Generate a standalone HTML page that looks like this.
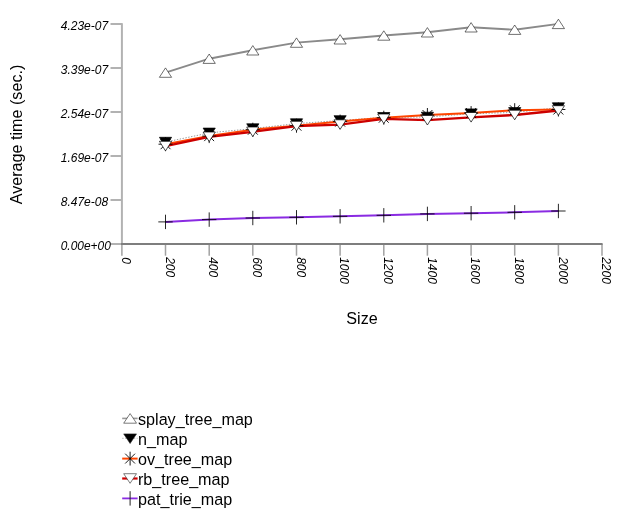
<!DOCTYPE html>
<html><head><meta charset="utf-8"><title>chart</title>
<style>
html,body{margin:0;padding:0;background:#fff;}
svg{display:block;will-change:transform;transform:translateZ(0)}
text{font-family:"Liberation Sans",sans-serif;fill:#000}
.tl{font-style:italic;font-size:12.2px}
.lg{font-size:16.15px}
</style></head><body>
<svg width="620" height="516" viewBox="0 0 620 516">
<rect width="620" height="516" fill="#fff"/>

<g stroke="#b2b2b2" stroke-width="2" fill="none">
<path d="M121.9,23.2V245"/>
<path d="M110.5,24.0H121.9"/>
<path d="M110.5,68.0H121.9"/>
<path d="M110.5,112.0H121.9"/>
<path d="M110.5,156.0H121.9"/>
<path d="M110.5,200.0H121.9"/>
<path d="M110.5,244.0H121.9"/>
</g>
<g stroke="#a2a2a2" stroke-width="1.5" fill="none">
<path d="M121.9,244V255.7"/>
<path d="M165.5,244V255.7"/>
<path d="M209.2,244V255.7"/>
<path d="M252.8,244V255.7"/>
<path d="M296.5,244V255.7"/>
<path d="M340.1,244V255.7"/>
<path d="M383.8,244V255.7"/>
<path d="M427.4,244V255.7"/>
<path d="M471.1,244V255.7"/>
<path d="M514.7,244V255.7"/>
<path d="M558.4,244V255.7"/>
<path d="M602.0,244V255.7"/>
</g>
<path d="M121,244H602.6" stroke="#7e7e7e" stroke-width="2" fill="none"/>
<text class="tl" x="60.7" y="30.3" textLength="47.5" lengthAdjust="spacingAndGlyphs">4.23e-07</text>
<text class="tl" x="60.7" y="74.3" textLength="47.5" lengthAdjust="spacingAndGlyphs">3.39e-07</text>
<text class="tl" x="60.7" y="118.3" textLength="47.5" lengthAdjust="spacingAndGlyphs">2.54e-07</text>
<text class="tl" x="60.7" y="162.3" textLength="47.5" lengthAdjust="spacingAndGlyphs">1.69e-07</text>
<text class="tl" x="60.7" y="206.3" textLength="47.5" lengthAdjust="spacingAndGlyphs">8.47e-08</text>
<text class="tl" x="60.7" y="250.3" textLength="50.1" lengthAdjust="spacingAndGlyphs">0.00e+00</text>
<text class="tl" style="font-size:12px" transform="translate(122.0,257.2) rotate(90)">0</text>
<text class="tl" style="font-size:12px" transform="translate(165.6,257.2) rotate(90)">200</text>
<text class="tl" style="font-size:12px" transform="translate(209.3,257.2) rotate(90)">400</text>
<text class="tl" style="font-size:12px" transform="translate(252.9,257.2) rotate(90)">600</text>
<text class="tl" style="font-size:12px" transform="translate(296.6,257.2) rotate(90)">800</text>
<text class="tl" style="font-size:12px" transform="translate(340.2,257.2) rotate(90)">1000</text>
<text class="tl" style="font-size:12px" transform="translate(383.9,257.2) rotate(90)">1200</text>
<text class="tl" style="font-size:12px" transform="translate(427.5,257.2) rotate(90)">1400</text>
<text class="tl" style="font-size:12px" transform="translate(471.2,257.2) rotate(90)">1600</text>
<text class="tl" style="font-size:12px" transform="translate(514.8,257.2) rotate(90)">1800</text>
<text class="tl" style="font-size:12px" transform="translate(558.5,257.2) rotate(90)">2000</text>
<text class="tl" style="font-size:12px" transform="translate(602.1,257.2) rotate(90)">2200</text>
<text class="lg" x="362" y="323.7" text-anchor="middle">Size</text>
<text class="lg" transform="translate(22,134.5) rotate(-90)" text-anchor="middle">Average time (sec.)</text>
<polyline points="165.5,72.6 209.2,58.7 252.8,50.3 296.5,42.6 340.1,39.3 383.8,35.5 427.4,32.3 471.1,27.3 514.7,29.7 558.4,23.9" fill="none" stroke="#8a8a8a" stroke-width="1.9"/>
<polyline points="165.5,142.1 209.2,132.9 252.8,128.6 296.5,123.6 340.1,120.5 383.8,117.3 427.4,117.0 471.1,113.7 514.7,112.4 558.4,107.6" fill="none" stroke="#333" stroke-width="0.5" stroke-dasharray="1.4 1.5"/>
<polyline points="165.5,144.2 209.2,136.1 252.8,129.7 296.5,125.7 340.1,121.6 383.8,117.7 427.4,115.0 471.1,113.1 514.7,110.2 558.4,109.5" fill="none" stroke="#ff4500" stroke-width="2.0"/>
<polyline points="165.5,146.1 209.2,136.8 252.8,131.8 296.5,126.1 340.1,124.6 383.8,118.8 427.4,120.2 471.1,117.3 514.7,115.0 558.4,110.5" fill="none" stroke="#cc0000" stroke-width="2.3"/>
<polyline points="165.5,221.9 209.2,219.6 252.8,218.0 296.5,217.3 340.1,216.3 383.8,215.3 427.4,213.9 471.1,213.2 514.7,212.3 558.4,211.0" fill="none" stroke="#8a2be2" stroke-width="2"/>
<path d="M165.5,67.9L159.4,77.3H171.6Z" fill="#fff" stroke="#111" stroke-width="0.6"/>
<path d="M209.2,54.0L203.1,63.4H215.3Z" fill="#fff" stroke="#111" stroke-width="0.6"/>
<path d="M252.8,45.6L246.7,55.0H258.9Z" fill="#fff" stroke="#111" stroke-width="0.6"/>
<path d="M296.5,37.9L290.4,47.3H302.6Z" fill="#fff" stroke="#111" stroke-width="0.6"/>
<path d="M340.1,34.6L334.0,44.0H346.2Z" fill="#fff" stroke="#111" stroke-width="0.6"/>
<path d="M383.8,30.8L377.7,40.2H389.9Z" fill="#fff" stroke="#111" stroke-width="0.6"/>
<path d="M427.4,27.6L421.3,37.0H433.5Z" fill="#fff" stroke="#111" stroke-width="0.6"/>
<path d="M471.1,22.6L465.0,32.0H477.2Z" fill="#fff" stroke="#111" stroke-width="0.6"/>
<path d="M514.7,25.0L508.6,34.4H520.8Z" fill="#fff" stroke="#111" stroke-width="0.6"/>
<path d="M558.4,19.2L552.3,28.6H564.5Z" fill="#fff" stroke="#111" stroke-width="0.6"/>
<path d="M165.5,146.9L159.4,137.3H171.6Z" fill="#000" stroke="#000" stroke-width="0.7"/>
<path d="M209.2,137.7L203.1,128.1H215.3Z" fill="#000" stroke="#000" stroke-width="0.7"/>
<path d="M252.8,133.4L246.7,123.8H258.9Z" fill="#000" stroke="#000" stroke-width="0.7"/>
<path d="M296.5,128.4L290.4,118.8H302.6Z" fill="#000" stroke="#000" stroke-width="0.7"/>
<path d="M340.1,125.3L334.0,115.7H346.2Z" fill="#000" stroke="#000" stroke-width="0.7"/>
<path d="M383.8,122.1L377.7,112.5H389.9Z" fill="#000" stroke="#000" stroke-width="0.7"/>
<path d="M427.4,121.8L421.3,112.2H433.5Z" fill="#000" stroke="#000" stroke-width="0.7"/>
<path d="M471.1,118.5L465.0,108.9H477.2Z" fill="#000" stroke="#000" stroke-width="0.7"/>
<path d="M514.7,117.2L508.6,107.6H520.8Z" fill="#000" stroke="#000" stroke-width="0.7"/>
<path d="M558.4,112.4L552.3,102.8H564.5Z" fill="#000" stroke="#000" stroke-width="0.7"/>
<path d="M158.5,144.2H172.5M165.5,137.2V151.2M160.6,139.2L170.5,149.2M170.5,139.2L160.6,149.2" stroke="#000" stroke-width="0.9" fill="none"/>
<path d="M202.2,136.1H216.2M209.2,129.1V143.1M204.2,131.1L214.1,141.1M214.1,131.1L204.2,141.1" stroke="#000" stroke-width="0.9" fill="none"/>
<path d="M245.8,129.7H259.8M252.8,122.7V136.7M247.9,124.7L257.8,134.7M257.8,124.7L247.9,134.7" stroke="#000" stroke-width="0.9" fill="none"/>
<path d="M289.5,125.7H303.5M296.5,118.7V132.7M291.5,120.7L301.4,130.7M301.4,120.7L291.5,130.7" stroke="#000" stroke-width="0.9" fill="none"/>
<path d="M333.1,121.6H347.1M340.1,114.6V128.6M335.2,116.6L345.1,126.6M345.1,116.6L335.2,126.6" stroke="#000" stroke-width="0.9" fill="none"/>
<path d="M376.8,117.7H390.8M383.8,110.7V124.7M378.8,112.7L388.7,122.7M388.7,112.7L378.8,122.7" stroke="#000" stroke-width="0.9" fill="none"/>
<path d="M420.4,115.0H434.4M427.4,108.0V122.0M422.5,110.0L432.4,120.0M432.4,110.0L422.5,120.0" stroke="#000" stroke-width="0.9" fill="none"/>
<path d="M464.1,113.1H478.1M471.1,106.1V120.1M466.1,108.1L476.0,118.1M476.0,108.1L466.1,118.1" stroke="#000" stroke-width="0.9" fill="none"/>
<path d="M507.7,110.2H521.7M514.7,103.2V117.2M509.8,105.2L519.7,115.2M519.7,105.2L509.8,115.2" stroke="#000" stroke-width="0.9" fill="none"/>
<path d="M551.4,109.5H565.4M558.4,102.5V116.5M553.4,104.5L563.3,114.5M563.3,104.5L553.4,114.5" stroke="#000" stroke-width="0.9" fill="none"/>
<path d="M165.5,150.9L159.4,141.3H171.6Z" fill="#fff" stroke="#000" stroke-width="0.7"/>
<path d="M209.2,141.6L203.1,132.0H215.3Z" fill="#fff" stroke="#000" stroke-width="0.7"/>
<path d="M252.8,136.6L246.7,127.0H258.9Z" fill="#fff" stroke="#000" stroke-width="0.7"/>
<path d="M296.5,130.9L290.4,121.3H302.6Z" fill="#fff" stroke="#000" stroke-width="0.7"/>
<path d="M340.1,129.4L334.0,119.8H346.2Z" fill="#fff" stroke="#000" stroke-width="0.7"/>
<path d="M383.8,123.6L377.7,114.0H389.9Z" fill="#fff" stroke="#000" stroke-width="0.7"/>
<path d="M427.4,125.0L421.3,115.4H433.5Z" fill="#fff" stroke="#000" stroke-width="0.7"/>
<path d="M471.1,122.1L465.0,112.5H477.2Z" fill="#fff" stroke="#000" stroke-width="0.7"/>
<path d="M514.7,119.8L508.6,110.2H520.8Z" fill="#fff" stroke="#000" stroke-width="0.7"/>
<path d="M558.4,115.3L552.3,105.7H564.5Z" fill="#fff" stroke="#000" stroke-width="0.7"/>
<path d="M158.3,221.9H172.7M165.5,214.7V229.1" stroke="#000" stroke-width="0.85" fill="none"/>
<path d="M202.0,219.6H216.4M209.2,212.4V226.8" stroke="#000" stroke-width="0.85" fill="none"/>
<path d="M245.6,218.0H260.0M252.8,210.8V225.2" stroke="#000" stroke-width="0.85" fill="none"/>
<path d="M289.3,217.3H303.7M296.5,210.1V224.5" stroke="#000" stroke-width="0.85" fill="none"/>
<path d="M332.9,216.3H347.3M340.1,209.1V223.5" stroke="#000" stroke-width="0.85" fill="none"/>
<path d="M376.6,215.3H391.0M383.8,208.1V222.5" stroke="#000" stroke-width="0.85" fill="none"/>
<path d="M420.2,213.9H434.6M427.4,206.7V221.1" stroke="#000" stroke-width="0.85" fill="none"/>
<path d="M463.9,213.2H478.3M471.1,206.0V220.4" stroke="#000" stroke-width="0.85" fill="none"/>
<path d="M507.5,212.3H521.9M514.7,205.1V219.5" stroke="#000" stroke-width="0.85" fill="none"/>
<path d="M551.2,211.0H565.6M558.4,203.8V218.2" stroke="#000" stroke-width="0.85" fill="none"/>
<text class="lg" x="138" y="424.7">splay_tree_map</text>
<text class="lg" x="138" y="444.7">n_map</text>
<text class="lg" x="138" y="464.7">ov_tree_map</text>
<text class="lg" x="138" y="484.7">rb_tree_map</text>
<text class="lg" x="138" y="504.7">pat_trie_map</text>
<path d="M122.2,418.4H137.6" stroke="#999" stroke-width="1.6"/><path d="M130.1,413.6L123.7,423.2H136.5Z" fill="#fff" stroke="#222" stroke-width="0.6"/>
<path d="M122.2,438.3H137.6" stroke="#666" stroke-width="0.5" stroke-dasharray="1.4 1.5"/><path d="M130.1,443.5L123.7,433.9H136.5Z" fill="#000" stroke="#222" stroke-width="0.6"/>
<path d="M122.2,458.6H137.6" stroke="#ff4500" stroke-width="2"/><path d="M130.1,451.7V465.5M125.2,453.7L135.0,463.5M135.0,453.7L125.2,463.5" stroke="#000" stroke-width="0.9" fill="none"/>
<path d="M122.2,478.5H137.6" stroke="#d00000" stroke-width="2.2"/><path d="M130.1,483.3L123.7,473.7H136.5Z" fill="#fff" stroke="#222" stroke-width="0.6"/>
<path d="M122.2,498.4H137.6" stroke="#8a2be2" stroke-width="1.8"/><path d="M130.1,491.2V505.6" stroke="#222" stroke-width="1" fill="none"/>
</svg></body></html>
